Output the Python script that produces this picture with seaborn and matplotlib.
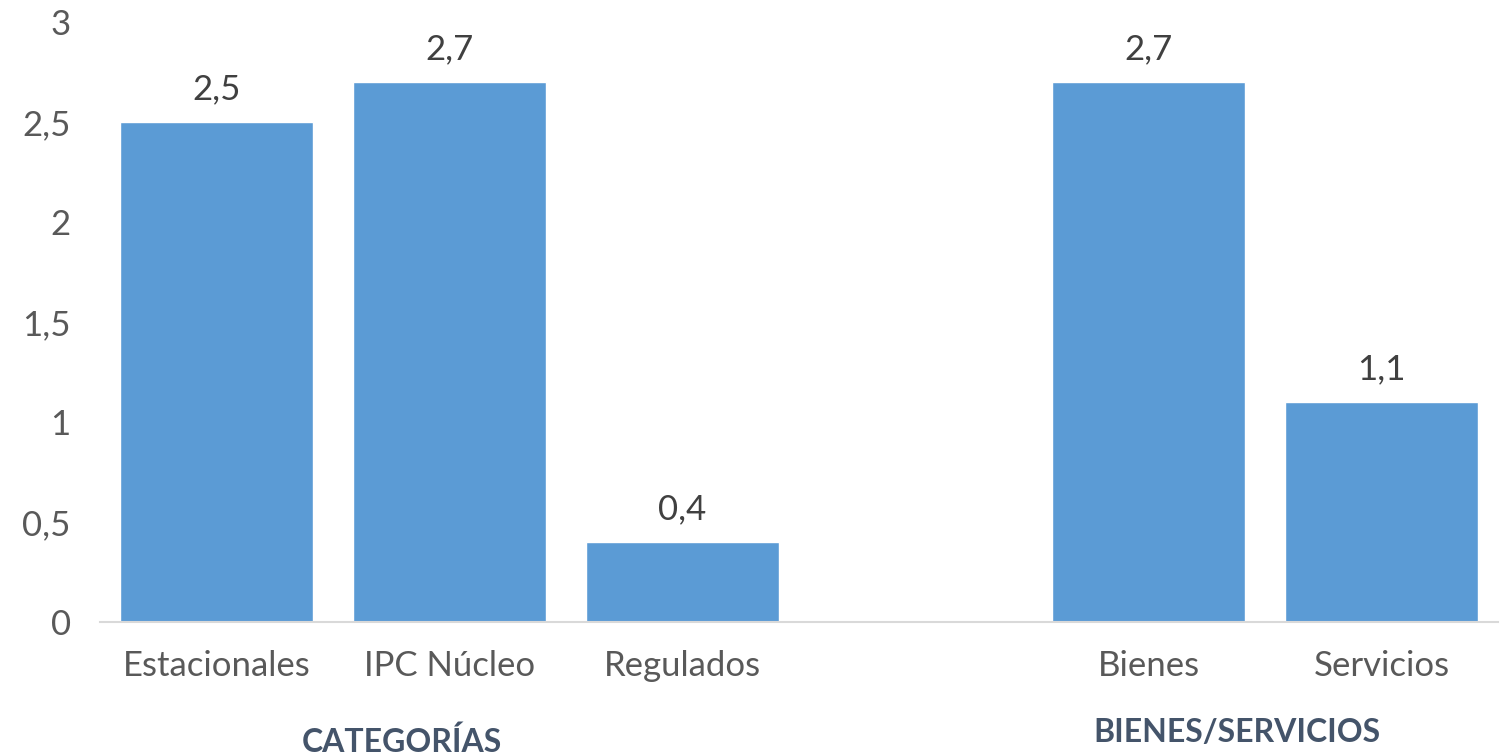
import matplotlib
matplotlib.use("Agg")
import matplotlib.pyplot as plt
import seaborn as sns
import pandas as pd

categories = ["Estacionales", "IPC Núcleo", "Regulados", "Bienes", "Servicios"]
values = [2.5, 2.7, 0.4, 2.7, 1.1]
order = ["Estacionales", "IPC Núcleo", "Regulados", " ", "Bienes", "Servicios"]
yticks = [0, 0.5, 1, 1.5, 2, 2.5, 3]
ytick_labels = ["0", "0,5", "1", "1,5", "2", "2,5", "3"]
groups = ["CATEGORÍAS", "BIENES/SERVICIOS"]

sns.set_theme(style="white")
plt.rcParams['font.family'] = ['Lato', 'DejaVu Sans']

df = pd.DataFrame({"cat": categories, "val": values})
fig = plt.figure(figsize=(15.06, 7.56), dpi=100)
ax = fig.add_axes([100/1506, (756-622)/756, 1398/1506, 600/756])
sns.barplot(data=df, x="cat", y="val", order=order, color="#5B9BD5",
            saturation=1, width=0.83, ax=ax)
ax.set_xlim(-0.5, 5.5)
ax.set_ylim(0, 3)
ax.set_yticks(yticks)
ax.set_yticklabels(ytick_labels)
ax.set_xlabel("")
ax.set_ylabel("")
for s in ["top", "right", "left"]:
    ax.spines[s].set_visible(False)
ax.spines["bottom"].set_color("#D9D9D9")
ax.spines["bottom"].set_linewidth(1.5)
ax.tick_params(axis="both", length=0, labelsize=25, colors="#595959")
ax.tick_params(axis="x", pad=20)
ax.tick_params(axis="y", pad=21)

for c in ax.containers:
    labels = [("%.1f" % v).replace(".", ",") if v == v else "" for v in c.datavalues]
    ax.bar_label(c, labels=labels, padding=12, fontsize=25, color="#404040")

fig.text(402/1506, 1 - 742/756, groups[0], ha="center", va="center",
         fontsize=23, fontweight="bold", color="#44546A")
fig.text(1237/1506, 1 - 733/756, groups[1], ha="center", va="center",
         fontsize=23, fontweight="bold", color="#44546A")

fig.savefig("out.png", dpi=100)
